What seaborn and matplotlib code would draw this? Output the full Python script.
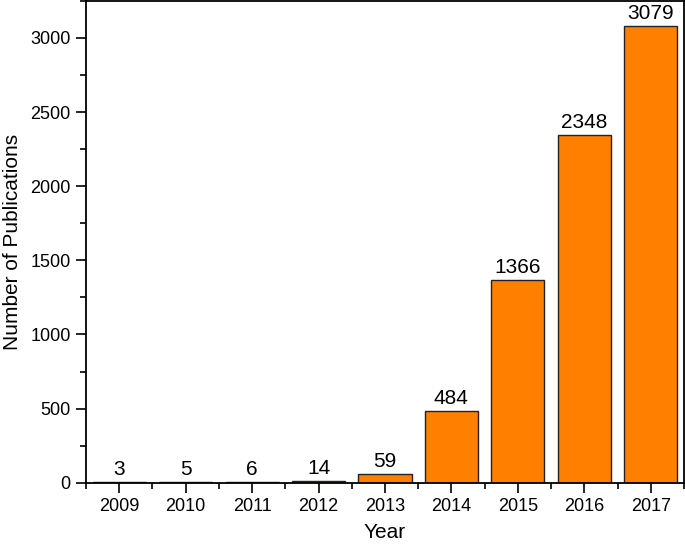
import matplotlib
matplotlib.use("Agg")
import matplotlib.pyplot as plt
import seaborn as sns
import pandas as pd
from matplotlib.ticker import MultipleLocator, FixedLocator

# data
years = ["2009", "2010", "2011", "2012", "2013", "2014", "2015", "2016", "2017"]
counts = [3, 5, 6, 14, 59, 484, 1366, 2348, 3079]

df = pd.DataFrame({"Year": years, "Publications": counts})

sns.set_style("ticks")
plt.rcParams['font.family'] = ['Liberation Sans', 'DejaVu Sans']
plt.rcParams['text.color'] = 'black'
plt.rcParams['axes.labelcolor'] = 'black'
plt.rcParams['xtick.color'] = 'black'
plt.rcParams['ytick.color'] = 'black'

fig = plt.figure(figsize=(6.85, 5.44), dpi=100)
ax = fig.add_axes([0.1255, 0.1125, 0.873, 0.886])

sns.barplot(data=df, x="Year", y="Publications", color="#FF8000",
            saturation=1, width=0.8, edgecolor="#222222", linewidth=1.0, ax=ax)

# value labels above bars
for i, v in enumerate(counts):
    ax.text(i, v + 20, str(v), ha="center", va="bottom", fontsize=15, color="black")

ax.set_xlim(-0.5, len(years) - 0.5)
ax.set_ylim(0, 3250)
ax.yaxis.set_major_locator(MultipleLocator(500))
ax.yaxis.set_minor_locator(MultipleLocator(250))
ax.xaxis.set_minor_locator(FixedLocator([i - 0.5 for i in range(len(years) + 1)]))

for s in ax.spines.values():
    s.set_visible(True)
    s.set_color("black")
    s.set_linewidth(1.3)

ax.tick_params(axis="both", which="major", direction="out", length=7, width=1.2,
               labelsize=13, labelcolor="black", color="black", pad=4)
ax.tick_params(axis="both", which="minor", direction="out", length=4, width=1.2, color="black")
ax.tick_params(top=False, right=False, which="both")

ax.set_xlabel("Year", fontsize=15, labelpad=6, color="black")
ax.set_ylabel("Number of Publications", fontsize=15, labelpad=6, color="black")

fig.savefig("out.png", dpi=100)
